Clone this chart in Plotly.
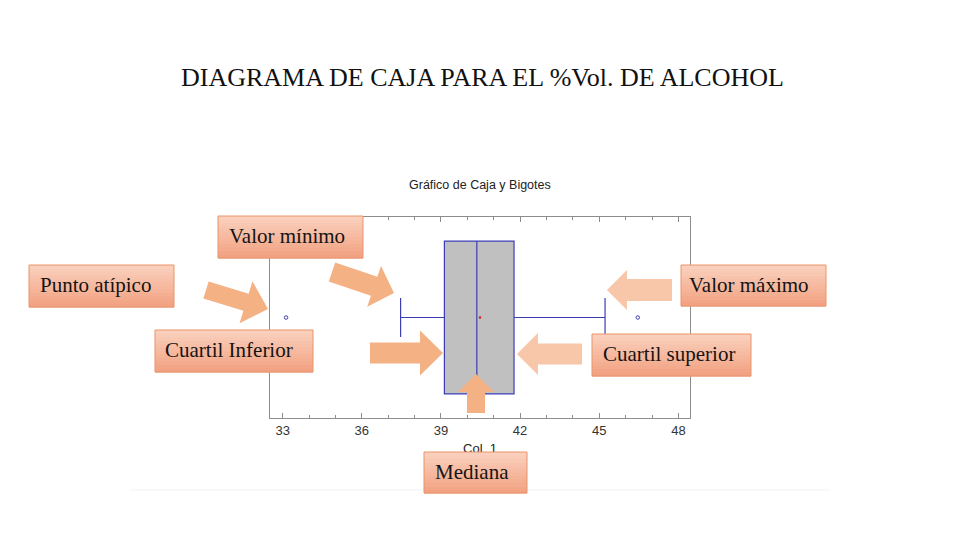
import plotly.graph_objects as go

# ---------------- data ----------------
q1 = [39.13]
median = [40.36]
q3 = [41.77]
lower_whisker = [37.47]
upper_whisker = [45.22]
mean_val = [40.48]
outliers = [33.13, 46.46]
x_ticks = [33, 36, 39, 42, 45, 48]
x_range = [32.52, 48.44]

slide_title = "DIAGRAMA DE CAJA PARA EL %Vol. DE ALCOHOL"
chart_title = "Gráfico de Caja y Bigotes"
axis_label = "Col_1"

callout_texts = ["Valor mínimo", "Punto atípico", "Cuartil Inferior",
                 "Valor máximo", "Cuartil superior", "Mediana"]

# ---------------- layout helpers (pixels -> paper) ----------------
W, H = 960, 540


def px(x):
    return x / W


def py(y):
    return 1 - y / H


# callout boxes (x0, y0, x1, y1) in pixels
callout_boxes = [(218, 216, 363, 258), (29, 265, 174, 307), (155, 330, 313, 372),
                 (681, 265, 826, 306), (592, 334, 751, 376), (424, 452, 527, 493)]
callout_pad = [9, 9, 8, 6, 9, 9]

# block arrows: tail, tip, shaft width, head width, head length, colour
DARK = "#F4B183"
LIGHT = "#F8C6A8"
arrows = [
    ((206, 290), (268, 309), 18, 44, 23, DARK),
    ((332, 272), (394, 293), 20, 43, 21, DARK),
    ((370, 353), (443, 353), 21, 45, 23, DARK),
    ((582, 354), (517, 354), 21, 42, 21, LIGHT),
    ((672, 290), (607, 290), 22, 40, 20, LIGHT),
    ((476, 413), (476, 374), 18, 36, 18, DARK),
]


def arrow_path(tail, tip, sw, hw, hl):
    tx, ty = tail
    hx, hy = tip
    L = ((hx - tx) ** 2 + (hy - ty) ** 2) ** 0.5
    dx, dy = (hx - tx) / L, (hy - ty) / L
    nx, ny = -dy, dx
    bx, by = hx - dx * hl, hy - dy * hl
    pts = [
        (tx + nx * sw / 2, ty + ny * sw / 2),
        (bx + nx * sw / 2, by + ny * sw / 2),
        (bx + nx * hw / 2, by + ny * hw / 2),
        (hx, hy),
        (bx - nx * hw / 2, by - ny * hw / 2),
        (bx - nx * sw / 2, by - ny * sw / 2),
        (tx - nx * sw / 2, ty - ny * sw / 2),
    ]
    return "M " + " L ".join(f"{px(a):.5f},{py(b):.5f}" for a, b in pts) + " Z"


def lerp_col(c0, c1, t):
    a = [int(c0[i:i + 2], 16) for i in (1, 3, 5)]
    b = [int(c1[i:i + 2], 16) for i in (1, 3, 5)]
    return "#" + "".join(f"{round(a[i] + (b[i] - a[i]) * t):02x}" for i in range(3))


BOX_TOP = "#FAD2BF"
BOX_BOT = "#F2A07F"
BOX_LINE = "#E8946A"

shapes = []
# faint bottom edge of the pasted picture
shapes.append(dict(type="line", xref="paper", yref="paper", x0=px(130), x1=px(830),
                   y0=py(490), y1=py(490), line=dict(color="#F3F3F3", width=1),
                   layer="below"))

for (t, tp, sw, hw, hl, col) in arrows:
    shapes.append(dict(type="path", xref="paper", yref="paper",
                       path=arrow_path(t, tp, sw, hw, hl),
                       fillcolor=col, line=dict(width=0), layer="above"))

N_BANDS = 12
for (x0, y0, x1, y1) in callout_boxes:
    h = (y1 - y0) / N_BANDS
    for i in range(N_BANDS):
        shapes.append(dict(type="rect", xref="paper", yref="paper",
                           x0=px(x0), x1=px(x1), y0=py(y0 + i * h), y1=py(y0 + (i + 1) * h + 0.6),
                           fillcolor=lerp_col(BOX_TOP, BOX_BOT, (i + 0.5) / N_BANDS),
                           line=dict(width=0), layer="above"))
    shapes.append(dict(type="rect", xref="paper", yref="paper",
                       x0=px(x0), x1=px(x1), y0=py(y0), y1=py(y1),
                       line=dict(color=BOX_LINE, width=1), layer="above"))

annotations = [
    dict(text=slide_title, x=px(482), y=py(78), xref="paper", yref="paper",
         showarrow=False, xanchor="center", yanchor="middle",
         font=dict(family="Liberation Serif", size=26, color="#111111")),
    dict(text=chart_title, x=px(480), y=py(185), xref="paper", yref="paper",
         showarrow=False, xanchor="center", yanchor="middle",
         font=dict(family="Liberation Sans", size=12.5, color="#222222")),
]
for txt, (x0, y0, x1, y1), pad in zip(callout_texts, callout_boxes, callout_pad):
    annotations.append(dict(text=txt, x=px(x0 + pad), y=py((y0 + y1) / 2 - 1),
                            xref="paper", yref="paper", showarrow=False,
                            xanchor="left", yanchor="middle",
                            font=dict(family="Liberation Serif", size=21, color="#141414")))

BLUE = "#3C3CB4"

fig = go.Figure()
fig.add_trace(go.Box(
    y=[0], q1=q1, median=median, q3=q3,
    lowerfence=lower_whisker, upperfence=upper_whisker,
    orientation="h", width=0.757, whiskerwidth=0.254,
    fillcolor="#C0C0C0", line=dict(color=BLUE, width=1.2),
    boxpoints=False, hoverinfo="skip",
))
fig.add_trace(go.Scatter(
    x=outliers, y=[0] * len(outliers), mode="markers",
    marker=dict(symbol="circle-open", size=3.5, color=BLUE, line=dict(width=1, color=BLUE)),
    hoverinfo="skip",
))
fig.add_trace(go.Scatter(
    x=mean_val, y=[0], mode="markers",
    marker=dict(symbol="circle", size=2.5, color="#D02020"),
    hoverinfo="skip",
))
# axis label drawn in a thin invisible strip below the axis, so that it sits
# under the "Mediana" callout (as in the original picture)
fig.add_trace(go.Scatter(
    x=[sum(x_range) / 2], y=[0.5], mode="text", text=[axis_label],
    textfont=dict(family="Liberation Sans", size=13, color="#222222"),
    xaxis="x2", yaxis="y2", hoverinfo="skip",
))

AX = "#8C8C8C"
fig.update_layout(
    width=W, height=H, margin=dict(l=0, r=0, t=0, b=0),
    paper_bgcolor="white", plot_bgcolor="white", showlegend=False,
    xaxis=dict(domain=[px(270), px(690)], range=x_range, tickvals=x_ticks,
               ticks="inside", ticklen=5, tickcolor=AX, tickwidth=1,
               showline=True, linecolor=AX, linewidth=1, mirror="ticks",
               showgrid=False, zeroline=False,
               minor=dict(dtick=1, tick0=33, ticks="inside", ticklen=3, tickcolor=AX),
               tickfont=dict(family="Liberation Sans", size=13, color="#333333")),
    yaxis=dict(domain=[py(418.3), py(216.7)], range=[-0.5, 0.5],
               showticklabels=False, ticks="", showline=True, linecolor=AX,
               linewidth=1, mirror=True, showgrid=False, zeroline=False),
    xaxis2=dict(domain=[px(270), px(690)], range=x_range, anchor="y2", visible=False),
    yaxis2=dict(domain=[py(460), py(440)], range=[0, 1], anchor="x2", visible=False),
    shapes=shapes, annotations=annotations,
)

fig.write_html("out.html", config={"displayModeBar": False},
               post_script="document.body.style.margin='0';document.body.style.overflow='hidden';")
